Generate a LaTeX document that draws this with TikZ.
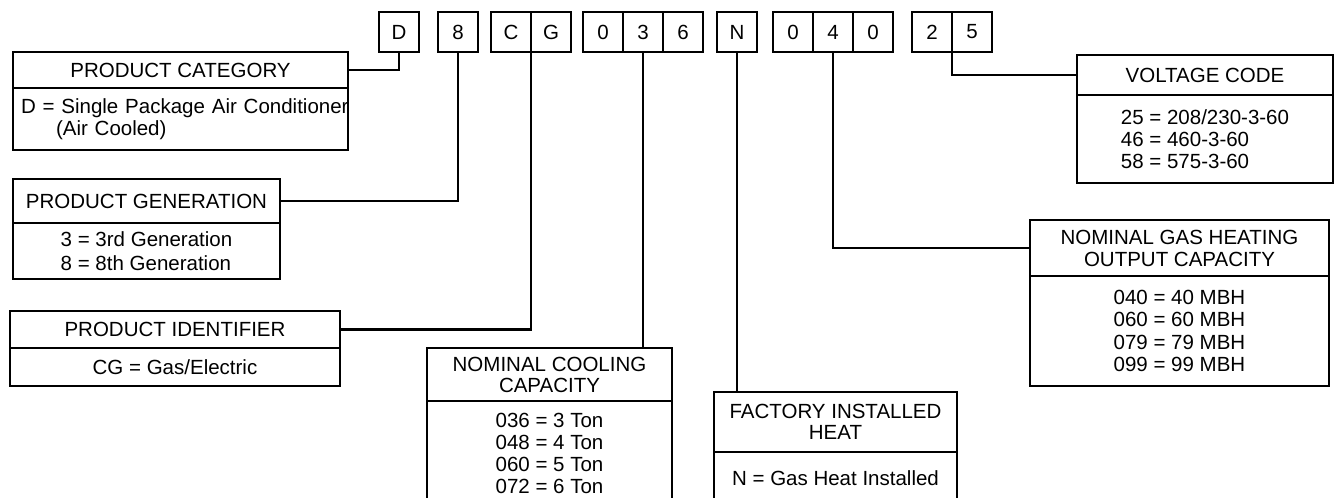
\documentclass[tikz,border=0pt]{standalone}
\usepackage{fontspec}
\setmainfont{Liberation Sans}
\usetikzlibrary{positioning}

\begin{document}
\begin{tikzpicture}[
      x=1pt, y=-1pt,
      every node/.style={font=\fontsize{20.5}{22}\selectfont, inner sep=0pt, outer sep=0pt},
      cell/.style={draw, line width=2.4pt, minimum size=40pt},
      hdr/.style={draw, line width=2.4pt, align=center, anchor=north west},
      body/.style={draw, line width=2.4pt, align=left},
      lead/.style={line width=2.4pt}
    ]
    \useasboundingbox (0,0) rectangle (1339,498);
    \clip (0,0) rectangle (1339,498);

    % model number cells
    \node[cell] (D) at (399,32) {D};
    \node[cell] (E8) at (458,32) {8};
    \node[cell] (C) at (511,32) {C};
    \node[cell, right=0pt of C] (G) {G};
    \node[cell] (T0) at (603,32) {0};
    \node[cell, right=0pt of T0] (T3) {3};
    \node[cell, right=0pt of T3] (T6) {6};
    \node[cell] (N) at (737,32) {N};
    \node[cell] (H0) at (793,32) {0};
    \node[cell, right=0pt of H0] (H4) {4};
    \node[cell, right=0pt of H4] (H0b) {0};
    \node[cell] (V2) at (932,32) {2};
    \node[cell, right=0pt of V2] (V5) {5};

    % legend boxes
    \node[hdr, minimum width=335pt, minimum height=36pt] (catH) at (13,52) {PRODUCT CATEGORY};
    \node[body, text width=335pt, minimum height=62pt, below=0pt of catH] (catB)
      {\hspace*{8pt}\mbox{D = Single Package Air Conditioner}\\\hspace*{43pt}(Air Cooled)};

    \node[hdr, minimum width=267pt, minimum height=44pt] (genH) at (13,179) {PRODUCT GENERATION};
    \node[body, minimum width=267pt, minimum height=56pt, below=0pt of genH,
          font=\fontsize{20.5}{24.5}\selectfont] (genB)
      {3 = 3rd Generation\\8 = 8th Generation};

    \node[hdr, minimum width=330pt, minimum height=37pt] (idH) at (10,311) {PRODUCT IDENTIFIER};
    \node[body, minimum width=330pt, minimum height=38pt, below=0pt of idH] (idB)
      {CG = Gas/Electric};

    \node[hdr, minimum width=245pt, minimum height=53pt, font=\fontsize{20.5}{21}\selectfont]
      (coolH) at (427,348) {NOMINAL COOLING\\CAPACITY};
    \node[body, minimum width=245pt, minimum height=105pt, below=0pt of coolH] (coolB)
      {036 = 3 Ton\\048 = 4 Ton\\060 = 5 Ton\\072 = 6 Ton};

    \node[hdr, minimum width=243pt, minimum height=60pt, font=\fontsize{20.5}{21}\selectfont]
      (heatH) at (714,392) {FACTORY INSTALLED\\HEAT};
    \node[body, minimum width=243pt, minimum height=52pt, below=0pt of heatH] (heatB)
      {N = Gas Heat Installed};

    \node[hdr, minimum width=299pt, minimum height=56pt] (gasH) at (1030,220)
      {NOMINAL GAS HEATING\\OUTPUT CAPACITY};
    \node[body, minimum width=299pt, minimum height=110pt, below=0pt of gasH,
          font=\fontsize{20.5}{22.6}\selectfont] (gasB)
      {040 = 40 MBH\\060 = 60 MBH\\079 = 79 MBH\\099 = 99 MBH};

    \node[hdr, minimum width=256pt, minimum height=40pt] (voltH) at (1077,55) {VOLTAGE CODE};
    \node[body, minimum width=256pt, minimum height=88pt, below=0pt of voltH] (voltB)
      {25 = 208/230-3-60\\46 = 460-3-60\\58 = 575-3-60};

    % leaders
    \draw[lead] (D.south) |- (catH.east);
    \draw[lead] (E8.south) |- (genH.east);
    \draw[lead] (C.south east) |- (idH.east);
    \draw[lead] (T3.south) -- (T3.south |- coolH.north);
    \draw[lead] (N.south) -- (N.south |- heatH.north);
    \draw[lead] (H4.south) |- (gasH.west);
    \draw[lead] (V2.south east) |- (voltH.west);
  \end{tikzpicture}
\end{document}
